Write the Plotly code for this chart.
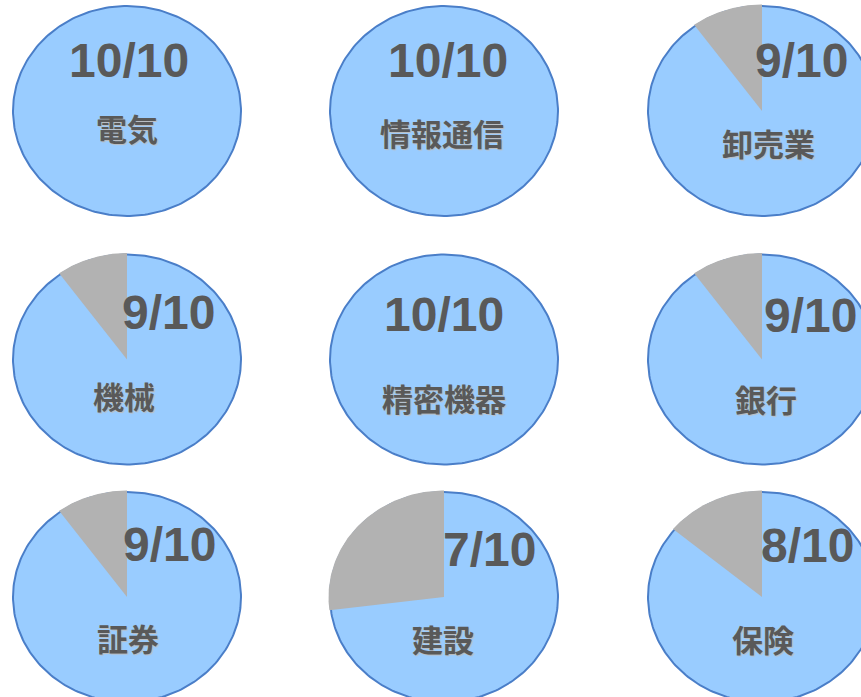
import numpy as np
import plotly.graph_objects as go

# ---- data ----
categories = ["電気", "情報通信", "卸売業", "機械", "精密機器", "銀行", "証券", "建設", "保険"]
scores = [10, 10, 9, 9, 10, 9, 9, 7, 8]           # label numerator
max_score = 10                                     # label denominator
gray_share = [0, 0, 1, 1, 0, 1, 1, 2.7, 1.4]       # grey slice size as drawn (out of 10)

# ---- layout constants ----
W, H = 861, 697
col_x = [127, 444, 762]
row_y = [111, 359.5, 597]
RX, RY = 114, 105
BLUE = "#99CCFF"
EDGE = "#4A7EC8"
GREY = "#B2B2B2"
TXT = "#595959"
# text offsets relative to each pie centre: (number dx, number dy, label dx, label dy)
text_off = [
    (2, -51, 0, 16), (4, -51, -2, 21), (39, -51, 6, 31),
    (41, -47, -3, 36), (0, -45, 0, 38), (48, -44, 4, 39),
    (42, -53, 1, 40), (45, -48, -1, 41), (45, -52, 1, 41),
]

fig = go.Figure()
ann = []
for i, cat in enumerate(categories):
    cx = col_x[i % 3]
    cy = row_y[i // 3]
    t = np.linspace(0, 2 * np.pi, 241)
    fig.add_trace(go.Scatter(
        x=cx + RX * np.sin(t), y=cy - RY * np.cos(t),
        mode="lines", fill="toself", fillcolor=BLUE,
        line=dict(color=EDGE, width=2), hoverinfo="skip", showlegend=False))
    g = gray_share[i] / max_score
    if g > 0:
        a = np.linspace(0, 2 * np.pi * g, 80)
        gx = np.concatenate([[cx], cx - (RX + 1.5) * np.sin(a), [cx]])
        gy = np.concatenate([[cy], cy - (RY + 1.5) * np.cos(a), [cy]])
        fig.add_trace(go.Scatter(
            x=gx, y=gy, mode="lines", fill="toself", fillcolor=GREY,
            line=dict(color=GREY, width=0), hoverinfo="skip", showlegend=False))
    ndx, ndy, ldx, ldy = text_off[i]
    ann.append(dict(x=cx + ndx, y=cy + ndy, xref="x", yref="y",
                    text=f"<b>{scores[i]}/{max_score}</b>", showarrow=False,
                    font=dict(family="Liberation Sans, Arial", size=48, color=TXT)))
    ann.append(dict(x=cx + ldx, y=cy + ldy, xref="x", yref="y",
                    text=f"<b>{cat}</b>", showarrow=False,
                    font=dict(family="Noto Sans CJK JP", size=31, color=TXT,
                              shadow="1px 1px 1px #BDBDBD")))

fig.update_layout(
    width=W, height=H, margin=dict(l=0, r=0, t=0, b=0),
    paper_bgcolor="white", plot_bgcolor="white",
    xaxis=dict(range=[0, W], visible=False, fixedrange=True),
    yaxis=dict(range=[H, 0], visible=False, fixedrange=True),
    annotations=ann, showlegend=False,
)
fig.write_html("out.html", config={"displayModeBar": False},
               post_script="document.body.style.margin='0px';")
